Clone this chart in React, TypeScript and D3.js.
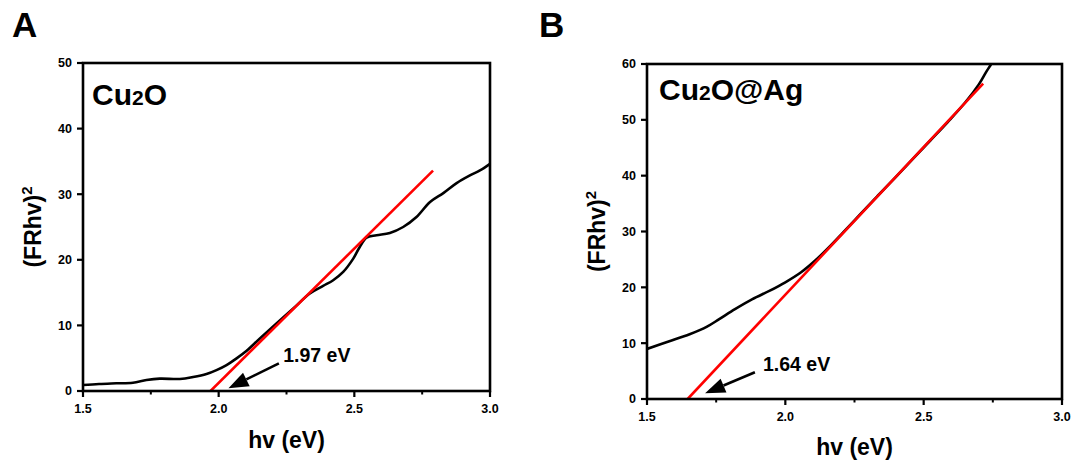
import React from "react";
import * as d3 from "d3";

// ---------- data ----------
const xTicks = [1.5, 2.0, 2.5, 3.0];
const xMinorTicks = [1.75, 2.25, 2.75];
const yTicksA = [0, 10, 20, 30, 40, 50];
const yTicksB = [0, 10, 20, 30, 40, 50, 60];

// Cu2O curve
const cu2oHv = [1.5, 1.559, 1.623, 1.684, 1.734, 1.783, 1.857, 1.906, 1.955, 1.992, 2.029, 2.066, 2.102, 2.152, 2.213, 2.275, 2.336, 2.385, 2.422, 2.459, 2.496, 2.52, 2.545, 2.582, 2.631, 2.68, 2.729, 2.779, 2.828, 2.877, 2.926, 2.963, 3.0];
const cu2oY = [0.91, 1.06, 1.17, 1.27, 1.67, 1.88, 1.83, 2.13, 2.59, 3.19, 3.96, 4.97, 6.09, 8.01, 10.29, 12.58, 14.86, 16.02, 16.89, 18.15, 20.18, 21.96, 23.38, 23.73, 24.09, 25.0, 26.52, 28.8, 30.17, 31.69, 32.86, 33.62, 34.63];

// Cu2O@Ag curve
const cu2oAgHv = [1.5, 1.578, 1.654, 1.717, 1.761, 1.818, 1.881, 1.944, 2.0, 2.057, 2.108, 2.158, 2.209, 2.271, 2.334, 2.398, 2.461, 2.524, 2.587, 2.65, 2.7, 2.725, 2.744, 2.76];
const cu2oAgY = [8.96, 10.3, 11.6, 12.96, 14.3, 16.1, 17.9, 19.4, 20.9, 22.7, 24.8, 27.2, 29.85, 33.1, 36.4, 39.7, 43.0, 46.3, 49.6, 53.1, 56.4, 58.5, 60.0, 61.5];

// Tauc fit lines
const fitAHv = [1.97, 2.79];
const fitAY = [0, 33.6];
const fitBHv = [1.647, 2.715];
const fitBY = [0, 56.5];

// annotations: [tipX, tipY, tailX, tailY, textX, textY]
const annoA = [2.036, 0.41, 2.222, 4.22, 2.238, 4.47];
const annoB = [1.71, 1.02, 1.89, 4.78, 1.919, 5.07];
const gapA = "1.97 eV";
const gapB = "1.64 eV";

const FONT = "'Liberation Sans', Arial, Helvetica, sans-serif";

type PanelProps = {
  id: string;
  letter: string;
  letterX: number;
  box: { x0: number; x1: number; y0: number; y1: number };
  yMax: number;
  yTicks: number[];
  hv: number[];
  ys: number[];
  fitHv: number[];
  fitY: number[];
  anno: number[];
  gap: string;
  sample: React.ReactNode;
  yTitleX: number;
  xTitleY: number;
};

function Panel(p: PanelProps) {
  const { box } = p;
  const x = d3.scaleLinear().domain([1.5, 3.0]).range([box.x0, box.x1]);
  const y = d3.scaleLinear().domain([0, p.yMax]).range([box.y1, box.y0]);
  const line = d3
    .line<[number, number]>()
    .x((d) => x(d[0]))
    .y((d) => y(d[1]))
    .curve(d3.curveCatmullRom.alpha(0.5));
  const pts: [number, number][] = p.hv.map((h, i) => [h, p.ys[i]]);
  const fitPts: [number, number][] = p.fitHv.map((h, i) => [h, p.fitY[i]]);
  const fitLine = d3.line<[number, number]>().x((d) => x(d[0])).y((d) => y(d[1]));

  // arrow
  const [tx, ty, sx, sy, lx, ly] = p.anno;
  const tipX = x(tx), tipY = y(ty), tailX = x(sx), tailY = y(sy);
  const ang = Math.atan2(tipY - tailY, tipX - tailX);
  const headLen = 20, headW = 7.5;
  const bx = tipX - headLen * Math.cos(ang);
  const by = tipY - headLen * Math.sin(ang);
  const nx = -Math.sin(ang), ny = Math.cos(ang);
  const head = `M${tipX},${tipY}L${bx + nx * headW},${by + ny * headW}L${bx - nx * headW},${by - ny * headW}Z`;

  const cx = (box.x0 + box.x1) / 2;
  const cy = (box.y0 + box.y1) / 2;

  return (
    <g fontFamily={FONT} fontWeight="bold">
      <defs>
        <clipPath id={`clip-${p.id}`}>
          <rect x={box.x0} y={box.y0} width={box.x1 - box.x0} height={box.y1 - box.y0} />
        </clipPath>
      </defs>
      <text x={p.letterX} y={37} fontSize={35} fill="#000">{p.letter}</text>

      {/* data */}
      <g clipPath={`url(#clip-${p.id})`}>
        <path d={line(pts) || ""} fill="none" stroke="#000" strokeWidth={2.6} strokeLinejoin="round" />
        <path d={fitLine(fitPts) || ""} fill="none" stroke="#ff0000" strokeWidth={2.6} />
      </g>

      {/* frame */}
      <rect x={box.x0} y={box.y0} width={box.x1 - box.x0} height={box.y1 - box.y0} fill="none" stroke="#000" strokeWidth={2.6} />

      {/* x ticks */}
      {xTicks.map((t) => (
        <g key={`xt${t}`}>
          <line x1={x(t)} x2={x(t)} y1={box.y1} y2={box.y1 + 6} stroke="#000" strokeWidth={2.2} />
          <text x={x(t)} y={box.y1 + 22} fontSize={12.5} textAnchor="middle" fill="#000">{t.toFixed(1)}</text>
        </g>
      ))}
      {xMinorTicks.map((t) => (
        <line key={`xm${t}`} x1={x(t)} x2={x(t)} y1={box.y1} y2={box.y1 + 3.5} stroke="#000" strokeWidth={2} />
      ))}
      {/* y ticks */}
      {p.yTicks.map((t) => (
        <g key={`yt${t}`}>
          <line x1={box.x0 - 6} x2={box.x0} y1={y(t)} y2={y(t)} stroke="#000" strokeWidth={2.2} />
          <text x={box.x0 - 11} y={y(t) + 4.4} fontSize={12.5} textAnchor="end" fill="#000">{t}</text>
        </g>
      ))}

      {/* axis titles */}
      <text x={cx} y={p.xTitleY} fontSize={23} textAnchor="middle" fill="#000">hv (eV)</text>
      <text transform={`translate(${p.yTitleX},${cy}) rotate(-90)`} fontSize={23} textAnchor="middle" fill="#000">
        (FRhv)<tspan fontSize={15} dy={-9}>2</tspan>
      </text>

      {/* sample name */}
      {p.sample}

      {/* annotation */}
      <line x1={tailX} y1={tailY} x2={bx} y2={by} stroke="#000" strokeWidth={2.6} />
      <path d={head} fill="#000" />
      <text x={x(lx)} y={y(ly)} fontSize={19.5} fill="#000">{p.gap}</text>
    </g>
  );
}

export default function App() {
  return (
    <svg
      width={1076}
      height={467}
      viewBox="0 0 1076 467"
      style={{ position: "absolute", left: 0, top: 0, background: "#fff" }}
    >
      <rect width={1076} height={467} fill="#fff" />
      <Panel
        id="a"
        letter="A"
        letterX={12}
        box={{ x0: 83, x1: 490, y0: 63, y1: 391 }}
        yMax={50}
        yTicks={yTicksA}
        hv={cu2oHv}
        ys={cu2oY}
        fitHv={fitAHv}
        fitY={fitAY}
        anno={annoA}
        gap={gapA}
        yTitleX={41}
        xTitleY={448}
        sample={
          <text x={92} y={105} fontSize={30} fill="#000">
            Cu<tspan fontSize={21}>2</tspan>O
          </text>
        }
      />
      <Panel
        id="b"
        letter="B"
        letterX={539}
        box={{ x0: 647, x1: 1062, y0: 64, y1: 399 }}
        yMax={60}
        yTicks={yTicksB}
        hv={cu2oAgHv}
        ys={cu2oAgY}
        fitHv={fitBHv}
        fitY={fitBY}
        anno={annoB}
        gap={gapB}
        yTitleX={605}
        xTitleY={455}
        sample={
          <text x={659} y={100} fontSize={30} fill="#000">
            Cu<tspan fontSize={21}>2</tspan>O@Ag
          </text>
        }
      />
    </svg>
  );
}
